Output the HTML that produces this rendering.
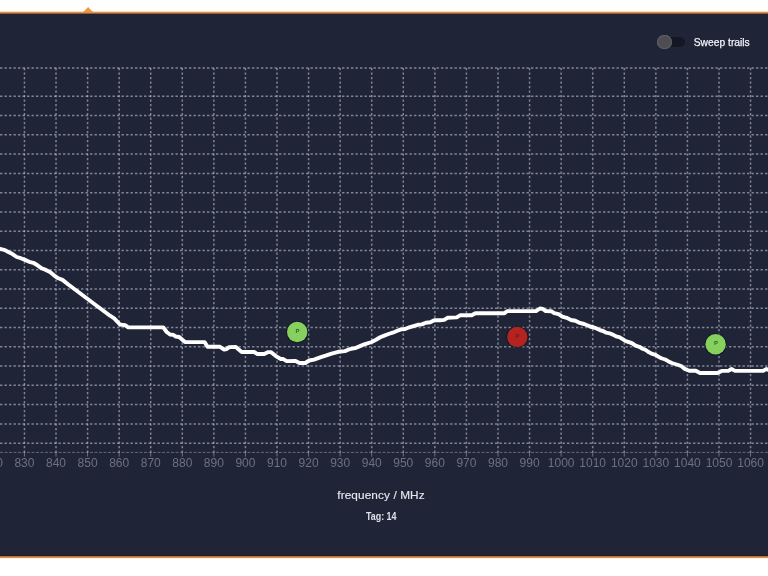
<!DOCTYPE html>
<html><head><meta charset="utf-8"><title>Sweep</title>
<style>
html,body{margin:0;padding:0;background:#fff;width:768px;height:576px;overflow:hidden;position:relative;font-family:"Liberation Sans",Arial,sans-serif;}
.panel{position:absolute;left:0;top:15px;width:768px;height:539px;background:#202437;}
.otop{position:absolute;left:0;top:10px;width:768px;height:5px;background:linear-gradient(to bottom,#fffcf5 0,#fffcf5 1px,#f8dcbc 1px,#f8dcbc 2px,#d49459 2px,#d49459 3px,#95603a 3px,#95603a 4px,#272129 4px,#272129 5px);}
.obot{position:absolute;left:0;top:554px;width:768px;height:5px;background:linear-gradient(to bottom,#1e2235 0,#1e2235 1px,#261f25 1px,#261f25 2px,#ad7245 2px,#ad7245 3px,#d6935a 3px,#d6935a 4px,#fbf1e0 4px,#fbf1e0 5px);}
.tri{position:absolute;left:0;top:0;}
.chart{position:absolute;left:0;top:0;will-change:transform;}
.g{stroke:rgba(205,210,225,0.55);stroke-width:1.5;stroke-dasharray:2.4 2.1;fill:none;}
.ax{stroke:rgba(200,204,215,0.45);stroke-width:0.9;stroke-dasharray:3 1.5;}
.tk{stroke:rgba(200,204,215,0.5);stroke-width:0.9;}
.lb{font-family:"Liberation Sans",Arial,sans-serif;font-size:12px;fill:#6c7080;text-anchor:middle;}
.cv{stroke:#fff;stroke-width:3.9;fill:none;stroke-linejoin:round;stroke-linecap:round;}
.mk{font-family:"Liberation Sans",Arial,sans-serif;font-size:6px;font-weight:bold;text-anchor:middle;}
.track{position:absolute;left:657.5px;top:37.3px;width:27px;height:9.5px;border-radius:4.75px;background:#141724;}
.knob{position:absolute;left:657.1px;top:34.9px;width:14.6px;height:14.6px;border-radius:50%;background:#4e4e51;box-shadow:inset 0 0 0 1px #5d606a;}
.sweep{position:absolute;left:693.7px;top:36px;font-size:10.3px;line-height:13px;color:#f0f2f6;white-space:nowrap;-webkit-text-stroke:0.25px #f0f2f6;}
.xl{position:absolute;left:0;width:762px;text-align:center;top:487.8px;font-size:11.8px;letter-spacing:0.1px;line-height:14px;color:#e6e8ed;white-space:nowrap;-webkit-text-stroke:0.15px #e6e8ed;}
.tag{position:absolute;left:0;width:762.5px;text-align:center;top:510.5px;font-size:10.4px;font-weight:bold;line-height:12px;color:#dfe2ea;white-space:nowrap;transform:scaleX(0.86);transform-origin:381.25px 0;}
</style></head><body>
<div class="otop"></div>
<svg class="tri" width="100" height="14"><polygon points="83.2,12 88.1,7 93,12" fill="#f29840"/></svg>
<div class="panel"></div>
<div class="obot"></div>
<svg class="chart" width="768" height="576" viewBox="0 0 768 576">
<line x1="24.45" y1="67.9" x2="24.45" y2="452.4" class="g"/>
<line x1="56.02" y1="67.9" x2="56.02" y2="452.4" class="g"/>
<line x1="87.59" y1="67.9" x2="87.59" y2="452.4" class="g"/>
<line x1="119.16" y1="67.9" x2="119.16" y2="452.4" class="g"/>
<line x1="150.73" y1="67.9" x2="150.73" y2="452.4" class="g"/>
<line x1="182.30" y1="67.9" x2="182.30" y2="452.4" class="g"/>
<line x1="213.87" y1="67.9" x2="213.87" y2="452.4" class="g"/>
<line x1="245.44" y1="67.9" x2="245.44" y2="452.4" class="g"/>
<line x1="277.01" y1="67.9" x2="277.01" y2="452.4" class="g"/>
<line x1="308.58" y1="67.9" x2="308.58" y2="452.4" class="g"/>
<line x1="340.15" y1="67.9" x2="340.15" y2="452.4" class="g"/>
<line x1="371.72" y1="67.9" x2="371.72" y2="452.4" class="g"/>
<line x1="403.29" y1="67.9" x2="403.29" y2="452.4" class="g"/>
<line x1="434.86" y1="67.9" x2="434.86" y2="452.4" class="g"/>
<line x1="466.43" y1="67.9" x2="466.43" y2="452.4" class="g"/>
<line x1="498.00" y1="67.9" x2="498.00" y2="452.4" class="g"/>
<line x1="529.57" y1="67.9" x2="529.57" y2="452.4" class="g"/>
<line x1="561.14" y1="67.9" x2="561.14" y2="452.4" class="g"/>
<line x1="592.71" y1="67.9" x2="592.71" y2="452.4" class="g"/>
<line x1="624.28" y1="67.9" x2="624.28" y2="452.4" class="g"/>
<line x1="655.85" y1="67.9" x2="655.85" y2="452.4" class="g"/>
<line x1="687.42" y1="67.9" x2="687.42" y2="452.4" class="g"/>
<line x1="718.99" y1="67.9" x2="718.99" y2="452.4" class="g"/>
<line x1="750.56" y1="67.9" x2="750.56" y2="452.4" class="g"/>
<line x1="0" y1="67.90" x2="768" y2="67.90" class="g"/>
<line x1="0" y1="96.30" x2="768" y2="96.30" class="g"/>
<line x1="0" y1="115.57" x2="768" y2="115.57" class="g"/>
<line x1="0" y1="134.84" x2="768" y2="134.84" class="g"/>
<line x1="0" y1="154.11" x2="768" y2="154.11" class="g"/>
<line x1="0" y1="173.38" x2="768" y2="173.38" class="g"/>
<line x1="0" y1="192.65" x2="768" y2="192.65" class="g"/>
<line x1="0" y1="211.92" x2="768" y2="211.92" class="g"/>
<line x1="0" y1="231.19" x2="768" y2="231.19" class="g"/>
<line x1="0" y1="250.46" x2="768" y2="250.46" class="g"/>
<line x1="0" y1="269.73" x2="768" y2="269.73" class="g"/>
<line x1="0" y1="289.00" x2="768" y2="289.00" class="g"/>
<line x1="0" y1="308.27" x2="768" y2="308.27" class="g"/>
<line x1="0" y1="327.54" x2="768" y2="327.54" class="g"/>
<line x1="0" y1="346.81" x2="768" y2="346.81" class="g"/>
<line x1="0" y1="366.08" x2="768" y2="366.08" class="g"/>
<line x1="0" y1="385.35" x2="768" y2="385.35" class="g"/>
<line x1="0" y1="404.62" x2="768" y2="404.62" class="g"/>
<line x1="0" y1="423.89" x2="768" y2="423.89" class="g"/>
<line x1="0" y1="443.16" x2="768" y2="443.16" class="g"/>
<line x1="0" y1="452.4" x2="768" y2="452.4" class="ax"/>
<line x1="24.45" y1="452.4" x2="24.45" y2="456.6" class="tk"/>
<line x1="56.02" y1="452.4" x2="56.02" y2="456.6" class="tk"/>
<line x1="87.59" y1="452.4" x2="87.59" y2="456.6" class="tk"/>
<line x1="119.16" y1="452.4" x2="119.16" y2="456.6" class="tk"/>
<line x1="150.73" y1="452.4" x2="150.73" y2="456.6" class="tk"/>
<line x1="182.30" y1="452.4" x2="182.30" y2="456.6" class="tk"/>
<line x1="213.87" y1="452.4" x2="213.87" y2="456.6" class="tk"/>
<line x1="245.44" y1="452.4" x2="245.44" y2="456.6" class="tk"/>
<line x1="277.01" y1="452.4" x2="277.01" y2="456.6" class="tk"/>
<line x1="308.58" y1="452.4" x2="308.58" y2="456.6" class="tk"/>
<line x1="340.15" y1="452.4" x2="340.15" y2="456.6" class="tk"/>
<line x1="371.72" y1="452.4" x2="371.72" y2="456.6" class="tk"/>
<line x1="403.29" y1="452.4" x2="403.29" y2="456.6" class="tk"/>
<line x1="434.86" y1="452.4" x2="434.86" y2="456.6" class="tk"/>
<line x1="466.43" y1="452.4" x2="466.43" y2="456.6" class="tk"/>
<line x1="498.00" y1="452.4" x2="498.00" y2="456.6" class="tk"/>
<line x1="529.57" y1="452.4" x2="529.57" y2="456.6" class="tk"/>
<line x1="561.14" y1="452.4" x2="561.14" y2="456.6" class="tk"/>
<line x1="592.71" y1="452.4" x2="592.71" y2="456.6" class="tk"/>
<line x1="624.28" y1="452.4" x2="624.28" y2="456.6" class="tk"/>
<line x1="655.85" y1="452.4" x2="655.85" y2="456.6" class="tk"/>
<line x1="687.42" y1="452.4" x2="687.42" y2="456.6" class="tk"/>
<line x1="718.99" y1="452.4" x2="718.99" y2="456.6" class="tk"/>
<line x1="750.56" y1="452.4" x2="750.56" y2="456.6" class="tk"/>
<text x="-7.12" y="466.8" class="lb">820</text>
<text x="24.45" y="466.8" class="lb">830</text>
<text x="56.02" y="466.8" class="lb">840</text>
<text x="87.59" y="466.8" class="lb">850</text>
<text x="119.16" y="466.8" class="lb">860</text>
<text x="150.73" y="466.8" class="lb">870</text>
<text x="182.30" y="466.8" class="lb">880</text>
<text x="213.87" y="466.8" class="lb">890</text>
<text x="245.44" y="466.8" class="lb">900</text>
<text x="277.01" y="466.8" class="lb">910</text>
<text x="308.58" y="466.8" class="lb">920</text>
<text x="340.15" y="466.8" class="lb">930</text>
<text x="371.72" y="466.8" class="lb">940</text>
<text x="403.29" y="466.8" class="lb">950</text>
<text x="434.86" y="466.8" class="lb">960</text>
<text x="466.43" y="466.8" class="lb">970</text>
<text x="498.00" y="466.8" class="lb">980</text>
<text x="529.57" y="466.8" class="lb">990</text>
<text x="561.14" y="466.8" class="lb">1000</text>
<text x="592.71" y="466.8" class="lb">1010</text>
<text x="624.28" y="466.8" class="lb">1020</text>
<text x="655.85" y="466.8" class="lb">1030</text>
<text x="687.42" y="466.8" class="lb">1040</text>
<text x="718.99" y="466.8" class="lb">1050</text>
<text x="750.56" y="466.8" class="lb">1060</text>
<text x="782.13" y="466.8" class="lb">1070</text>
<path d="M0.0,248.80 L5.0,250.10 L8.3,252.00 L12.5,254.05 L16.7,257.00 L20.8,258.20 L25.0,259.90 L29.2,261.80 L33.3,262.80 L37.5,265.30 L41.7,268.30 L45.8,269.90 L50.0,272.00 L54.0,275.30 L58.3,278.30 L62.5,279.90 L68.3,284.50 L76.7,290.70 L85.0,297.00 L93.3,303.20 L101.7,309.50 L110.0,315.70 L114.2,318.30 L120.0,324.50 L122.5,324.90 L125.4,325.30 L128.3,327.40 L163.3,327.40 L166.7,332.00 L170.0,334.50 L173.3,334.90 L175.8,336.55 L179.2,337.00 L185.0,342.00 L204.6,342.10 L207.5,346.80 L220.0,346.80 L224.2,349.50 L226.7,349.05 L229.2,347.10 L235.8,347.00 L241.7,352.00 L254.2,352.00 L257.5,354.05 L264.2,354.05 L268.3,352.10 L270.8,352.10 L275.8,356.10 L280.8,359.05 L283.3,359.05 L286.7,361.10 L295.6,361.00 L299.5,363.00 L305.3,363.00 L309.2,360.50 L314.0,359.60 L320.9,357.10 L325.7,355.70 L331.6,353.70 L338.4,351.80 L345.0,351.10 L350.0,349.05 L355.0,348.20 L360.0,346.10 L365.0,344.05 L371.7,342.00 L376.0,339.80 L380.2,337.30 L384.3,335.60 L388.5,334.00 L392.7,332.70 L396.8,331.05 L401.0,329.40 L405.2,329.00 L409.3,327.30 L413.5,326.05 L417.7,324.80 L421.8,324.40 L426.0,322.70 L430.2,322.30 L434.3,320.20 L440.0,320.20 L444.2,319.90 L447.5,317.80 L456.7,317.40 L460.0,315.30 L471.7,315.30 L475.4,313.20 L504.5,313.30 L507.0,311.10 L536.0,311.10 L539.9,308.50 L542.8,308.90 L545.7,311.10 L551.6,311.30 L554.2,313.10 L558.6,314.20 L562.3,316.70 L566.6,317.80 L571.0,320.00 L575.4,320.70 L579.8,322.90 L584.1,324.00 L588.5,325.80 L590.0,326.50 L593.9,327.50 L596.5,328.40 L599.8,330.10 L603.0,331.00 L606.3,332.70 L609.5,333.30 L612.8,334.60 L616.0,336.30 L619.3,337.20 L622.6,339.20 L625.8,341.10 L629.0,342.10 L632.3,343.40 L635.6,345.70 L639.3,346.80 L642.5,348.70 L645.8,350.00 L649.0,352.30 L652.3,353.90 L655.5,354.90 L658.8,356.90 L662.0,358.50 L665.3,359.50 L668.6,361.40 L671.8,363.00 L675.0,364.00 L678.3,365.00 L681.6,366.30 L684.2,368.60 L689.2,370.70 L695.8,370.70 L700.0,373.00 L717.5,373.00 L721.7,370.90 L728.3,370.90 L731.5,369.05 L735.0,370.90 L763.1,370.90 L766.2,369.05 L770.0,370.30" class="cv"/>
<circle cx="297.2" cy="332.0" r="11.1" fill="#121520" opacity="0.8"/>
<circle cx="297.2" cy="332.0" r="10.2" fill="#86d05e"/>
<text x="297.5" y="332.6" class="mk" fill="#2f6527">P</text>
<circle cx="517.3" cy="337.0" r="11.1" fill="#121520" opacity="0.8"/>
<circle cx="517.3" cy="337.0" r="10.2" fill="#b3231f"/>
<text x="517.6" y="337.6" class="mk" fill="#6e1c18">P</text>
<circle cx="715.6" cy="344.3" r="11.1" fill="#121520" opacity="0.8"/>
<circle cx="715.6" cy="344.3" r="10.2" fill="#86d05e"/>
<text x="715.9" y="344.9" class="mk" fill="#2f6527">P</text>
</svg>
<div class="track"></div>
<div class="knob"></div>
<div class="sweep">Sweep trails</div>
<div class="xl">frequency / MHz</div>
<div class="tag">Tag: 14</div>
</body></html>
